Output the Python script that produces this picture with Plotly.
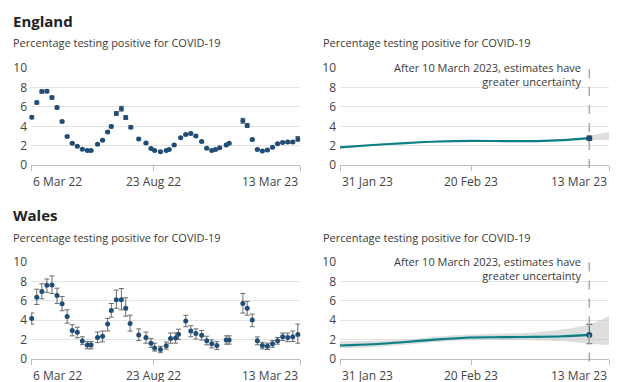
import plotly.graph_objects as go

# ---------------- data ----------------
eng_dates = ["2022-03-07","2022-03-14","2022-03-21","2022-03-28","2022-04-04","2022-04-11","2022-04-18",
             "2022-04-25","2022-05-02","2022-05-09","2022-05-16","2022-05-23","2022-05-28","2022-06-06",
             "2022-06-13","2022-06-20","2022-06-25","2022-07-02","2022-07-09","2022-07-15","2022-07-22",
             "2022-08-02","2022-08-12","2022-08-19","2022-08-24","2022-09-01","2022-09-09","2022-09-13",
             "2022-09-20","2022-09-29","2022-10-06","2022-10-13","2022-10-20","2022-10-28","2022-11-04",
             "2022-11-11","2022-11-16","2022-11-22","2022-12-01","2022-12-05","2022-12-24","2022-12-30",
             "2023-01-06","2023-01-13","2023-01-20","2023-01-27","2023-02-03","2023-02-10","2023-02-17",
             "2023-02-24","2023-03-03","2023-03-10"]
eng_values = [4.93,6.45,7.6,7.63,6.97,5.95,4.5,2.96,2.24,1.94,1.64,1.51,1.51,2.14,2.57,3.42,3.98,5.33,5.82,
              4.9,3.91,2.7,2.27,1.71,1.51,1.38,1.51,1.61,2.07,2.83,3.16,3.26,3.0,2.43,1.74,1.51,1.61,1.78,
              2.07,2.24,4.57,4.08,2.63,1.61,1.45,1.55,1.84,2.2,2.34,2.37,2.37,2.7]
eng_err = [0.15,0.15,0.15,0.15,0.15,0.15,0.12,0.1,0.08,0.08,0.07,0.07,0.07,0.08,0.1,0.12,0.15,0.2,0.25,0.2,
           0.15,0.1,0.1,0.08,0.07,0.07,0.07,0.08,0.08,0.1,0.1,0.12,0.1,0.1,0.08,0.07,0.08,0.08,0.1,0.1,
           0.25,0.2,0.12,0.08,0.08,0.08,0.08,0.1,0.1,0.1,0.12,0.25]

wal_dates = ["2022-03-07","2022-03-14","2022-03-21","2022-03-28","2022-04-04","2022-04-11","2022-04-18",
             "2022-04-25","2022-05-02","2022-05-09","2022-05-16","2022-05-23","2022-05-28","2022-06-06",
             "2022-06-13","2022-06-20","2022-06-25","2022-07-02","2022-07-09","2022-07-15","2022-07-21",
             "2022-08-02","2022-08-12","2022-08-19","2022-08-24","2022-09-01","2022-09-09","2022-09-15",
             "2022-09-22","2022-09-26","2022-10-06","2022-10-13","2022-10-20","2022-10-28","2022-11-04",
             "2022-11-11","2022-11-18","2022-12-01","2022-12-05","2022-12-24","2022-12-30","2023-01-06",
             "2023-01-13","2023-01-20","2023-01-27","2023-02-03","2023-02-10","2023-02-17","2023-02-24",
             "2023-03-03","2023-03-10"]
wal_values = [4.18,6.38,6.97,7.6,7.63,6.55,5.69,4.38,2.93,2.73,1.84,1.41,1.41,2.2,2.34,3.59,5.0,6.12,6.12,
              5.23,3.65,2.47,2.2,1.61,1.12,0.95,1.35,2.1,2.14,2.53,3.91,2.86,2.6,2.43,1.87,1.55,1.38,1.94,
              1.94,5.72,5.23,4.01,1.87,1.38,1.28,1.55,1.87,2.27,2.2,2.27,2.5]
wal_err_hi = [0.56,0.82,0.79,0.66,0.95,0.76,0.76,0.69,0.59,0.53,0.43,0.36,0.36,0.56,0.53,0.59,0.72,0.99,
              1.15,1.09,0.86,0.62,0.56,0.49,0.49,0.33,0.39,0.56,0.53,0.53,0.59,0.56,0.49,0.49,0.46,0.39,
              0.39,0.43,0.43,1.05,0.72,0.62,0.39,0.33,0.33,0.33,0.33,0.39,0.46,0.59,1.09]
wal_err_lo = [0.59,0.76,0.76,0.72,0.86,0.82,0.72,0.69,0.56,0.56,0.39,0.39,0.39,0.53,0.59,0.72,0.69,0.89,
              1.05,0.82,0.79,0.59,0.59,0.43,0.33,0.33,0.36,0.49,0.53,0.53,0.59,0.59,0.56,0.49,0.43,0.43,
              0.43,0.43,0.43,0.99,0.72,0.69,0.43,0.36,0.33,0.36,0.36,0.39,0.43,0.49,0.89]

trend_dates = ["2023-01-31","2023-02-05","2023-02-10","2023-02-15","2023-02-20","2023-02-25",
               "2023-03-02","2023-03-06","2023-03-10"]
eng_trend = [1.83,2.07,2.27,2.43,2.5,2.47,2.47,2.57,2.77]
eng_trend_hi = [1.91,2.15,2.35,2.52,2.59,2.56,2.56,2.67,2.9]
eng_trend_lo = [1.75,1.99,2.19,2.35,2.41,2.38,2.38,2.48,2.65]
eng_last_hi, eng_last_lo = 3.0, 2.57

wal_trend = [1.37,1.5,1.73,2.0,2.2,2.23,2.27,2.33,2.47]
wal_trend_hi = [1.47,1.62,1.86,2.13,2.34,2.37,2.41,2.47,2.6]
wal_trend_lo = [1.29,1.41,1.63,1.89,2.08,2.11,2.14,2.2,2.35]
wal_last_hi, wal_last_lo = 3.55, 1.55

eng_unc_dates = ["2023-03-10","2023-03-13"]
eng_unc_hi = [3.03,3.4]
eng_unc_lo = [2.57,2.6]

wal_unc_dates = ["2023-01-31","2023-02-05","2023-02-10","2023-02-15","2023-02-20","2023-02-25",
                 "2023-03-02","2023-03-06","2023-03-10","2023-03-13"]
wal_unc_hi = [1.8,1.85,2.0,2.3,2.5,2.6,2.75,3.05,3.55,4.4]
wal_unc_lo = [1.1,1.2,1.45,1.75,1.95,1.95,1.9,1.8,1.55,1.42]

left_ticks = ["2022-03-06","2022-08-23","2023-03-13"]
left_ticklabels = ["6 Mar 22","23 Aug 22","13 Mar 23"]
right_ticks = ["2023-01-31","2023-02-20","2023-03-13"]
right_ticklabels = ["31 Jan 23","20 Feb 23","13 Mar 23"]
y_ticks = [0,2,4,6,8,10]
cutoff_date = "2023-03-10"

# --------------- style ----------------
FONT = "Open Sans"
MARK = "#1f4d76"
ERRC = "#6b6b6b"
TEAL = "#0f7f86"
TEAL_BAND = "rgba(120,205,210,0.55)"
GREY_BAND = "rgba(200,200,200,0.6)"
GRID = "#e3e3e3"
AXIS = "#bdbdbd"
TXT = "#3a3a3a"

fig = go.Figure()

W, H = 636, 382
def px(x):
    return x / W
def py(y):
    return 1 - y / H

xdom_left = [px(31), px(300)]
xdom_right = [px(340), px(609)]
ydom_eng = [py(163.3), py(62)]
ydom_wal = [py(366), py(265)]

def add_points(dates, vals, hi, lo, xa, ya):
    fig.add_trace(go.Scatter(
        x=dates, y=vals, mode="markers", xaxis=xa, yaxis=ya, cliponaxis=False,
        marker=dict(color=MARK, size=5, symbol="circle"),
        error_y=dict(type="data", symmetric=False, array=hi, arrayminus=lo,
                     color=ERRC, thickness=1, width=2.5),
        showlegend=False, hoverinfo="x+y"))

add_points(eng_dates, eng_values, eng_err, eng_err, "x", "y")
add_points(wal_dates, wal_values, wal_err_hi, wal_err_lo, "x3", "y3")

def add_band(dates, lo, hi, xa, ya, color):
    fig.add_trace(go.Scatter(x=dates, y=lo, mode="lines", xaxis=xa, yaxis=ya,
                             line=dict(width=0, shape="spline"), showlegend=False, hoverinfo="skip"))
    fig.add_trace(go.Scatter(x=dates, y=hi, mode="lines", xaxis=xa, yaxis=ya, fill="tonexty",
                             fillcolor=color, line=dict(width=0, shape="spline"),
                             showlegend=False, hoverinfo="skip"))

def add_trend(trend, lo, hi, unc_dates, unc_lo, unc_hi, last_hi, last_lo, xa, ya):
    add_band(unc_dates, unc_lo, unc_hi, xa, ya, GREY_BAND)
    add_band(trend_dates, lo, hi, xa, ya, TEAL_BAND)
    fig.add_trace(go.Scatter(x=trend_dates, y=trend, mode="lines", xaxis=xa, yaxis=ya,
                             line=dict(color=TEAL, width=2.2, shape="spline", smoothing=0.8),
                             showlegend=False))
    fig.add_trace(go.Scatter(x=[trend_dates[-1]], y=[trend[-1]], mode="markers", xaxis=xa, yaxis=ya,
                             marker=dict(color=MARK, size=6),
                             error_y=dict(type="data", symmetric=False,
                                          array=[last_hi - trend[-1]], arrayminus=[trend[-1] - last_lo],
                                          color=ERRC, thickness=1.2, width=3),
                             showlegend=False))

add_trend(eng_trend, eng_trend_lo, eng_trend_hi, eng_unc_dates, eng_unc_lo, eng_unc_hi,
          eng_last_hi, eng_last_lo, "x2", "y2")
add_trend(wal_trend, wal_trend_lo, wal_trend_hi, wal_unc_dates, wal_unc_lo, wal_unc_hi,
          wal_last_hi, wal_last_lo, "x4", "y4")

def xaxis(dom, rng, ticks, anchor):
    return dict(domain=dom, range=rng, type="date", anchor=anchor, showgrid=False, zeroline=False,
                showline=True, linecolor=AXIS, linewidth=1, ticks="outside", ticklen=5,
                tickcolor=AXIS, tickvals=ticks, showticklabels=False, fixedrange=True)

def yaxis(dom, anchor):
    return dict(domain=dom, range=[0, 10], anchor=anchor, tickvals=y_ticks, showgrid=True,
                gridcolor=GRID, gridwidth=1, zeroline=False, showline=False, ticks="",
                tickfont=dict(family=FONT, size=12, color="#444"), ticklabelstandoff=3, fixedrange=True)

left_range = [left_ticks[0], left_ticks[-1]]
right_range = [right_ticks[0], right_ticks[-1]]

annotations = []
def tick_labels(xref, yref, ticks, labels):
    anchors = ["left", "center", "right"]
    for t, lab, a in zip(ticks, labels, anchors):
        annotations.append(dict(x=t, y=0, xref=xref, yref=yref, text=lab, showarrow=False,
                                xanchor=a, yanchor="top", yshift=-6,
                                font=dict(family=FONT, size=12, color="#444")))

tick_labels("x", "y", left_ticks, left_ticklabels)
tick_labels("x2", "y2", right_ticks, right_ticklabels)
tick_labels("x3", "y3", left_ticks, left_ticklabels)
tick_labels("x4", "y4", right_ticks, right_ticklabels)

def heading(text, ymid):
    annotations.append(dict(x=px(11), y=py(ymid), xref="paper", yref="paper", text="<b>%s</b>" % text,
                            showarrow=False, xanchor="left", yanchor="middle",
                            font=dict(family=FONT, size=15, color="#222")))

def subtitle(x, ymid):
    annotations.append(dict(x=px(x), y=py(ymid), xref="paper", yref="paper",
                            text="Percentage testing positive for COVID-19", showarrow=False,
                            xanchor="left", yanchor="middle", font=dict(family=FONT, size=11, color=TXT)))

heading("England", 12.5)
heading("Wales", 216)
subtitle(11, 35)
subtitle(321, 35)
subtitle(11, 239)
subtitle(321, 239)

for xr, yr in (("x2", "y2"), ("x4", "y4")):
    annotations.append(dict(x=cutoff_date, y=10, xref=xr, yref=yr,
                            text="After 10 March 2023, estimates have<br>greater uncertainty",
                            showarrow=False, xanchor="right", yanchor="top", xshift=-6, yshift=10,
                            align="right", font=dict(family=FONT, size=11, color=TXT)))

shapes = []
for xr, yr in (("x2", "y2"), ("x4", "y4")):
    shapes.append(dict(type="line", x0=cutoff_date, x1=cutoff_date, xref=xr, yref=yr + " domain",
                       y0=-0.03, y1=1.05, line=dict(color="#a8a8a8", width=1.5, dash="dash"), layer="above"))

fig.update_layout(
    width=W, height=H, margin=dict(l=0, r=0, t=0, b=0),
    paper_bgcolor="white", plot_bgcolor="white",
    font=dict(family=FONT, color=TXT),
    xaxis=xaxis(xdom_left, left_range, left_ticks, "y"),
    yaxis=yaxis(ydom_eng, "x"),
    xaxis2=xaxis(xdom_right, right_range, right_ticks, "y2"),
    yaxis2=yaxis(ydom_eng, "x2"),
    xaxis3=xaxis(xdom_left, left_range, left_ticks, "y3"),
    yaxis3=yaxis(ydom_wal, "x3"),
    xaxis4=xaxis(xdom_right, right_range, right_ticks, "y4"),
    yaxis4=yaxis(ydom_wal, "x4"),
    annotations=annotations, shapes=shapes, showlegend=False,
)

fig.write_html("out.html", config={"displayModeBar": False},
               post_script="document.body.style.margin='0';document.body.style.overflow='hidden';")
